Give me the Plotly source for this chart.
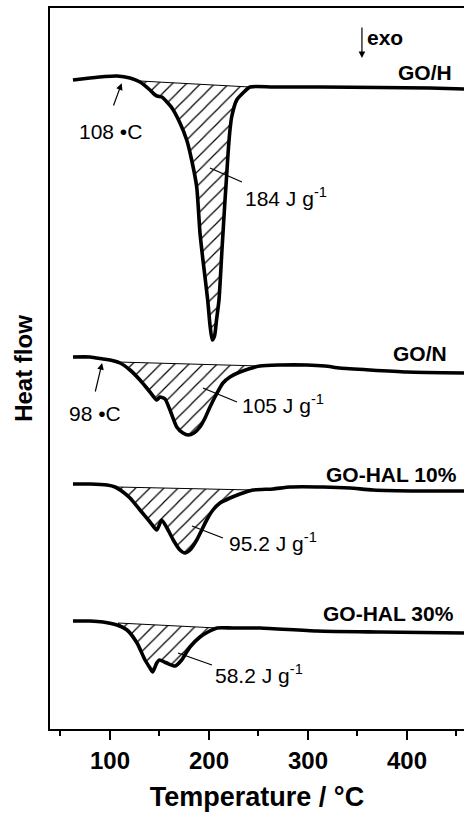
import plotly.graph_objects as go

FONT = "Liberation Sans"

# ---------------- data (Temperature in °C, heat flow in a.u., curves offset) ----------------
T_H = [62.6, 79.8, 94.9, 107.1, 120.2, 130.3, 140.4, 144.5, 147.5, 152.5, 156.6, 162.6, 170.7,
       177.5, 182.5, 187.6, 190.9, 193.9, 198.7, 201.0, 203.3, 205.6, 207.6, 210.1, 213.1, 216.2,
       218.2, 219.5, 221.2, 222.9, 228.0, 234.3, 241.4, 264.6, 312.1, 372.7, 423.2, 458.0]
HF_H = [6.49, 6.51, 6.525, 6.53, 6.51, 6.47, 6.39, 6.35, 6.33, 6.32, 6.28, 6.21, 6.06,
        5.89, 5.69, 5.42, 4.96, 4.69, 4.29, 4.04, 3.89, 3.93, 4.09, 4.29, 4.79, 5.29,
        5.59, 5.79, 5.99, 6.12, 6.29, 6.36, 6.42, 6.42, 6.42, 6.415, 6.41, 6.40]

T_N = [62.6, 79.8, 92.9, 100.0, 110.1, 120.2, 130.3, 140.4, 147.2, 150.5, 155.6, 160.6, 167.4,
       173.7, 179.1, 184.8, 190.9, 196.0, 201.0, 207.1, 214.1, 221.2, 231.3, 251.5, 271.7, 299.0,
       317.2, 332.3, 362.6, 400.0, 458.0]
HF_N = [3.72, 3.72, 3.70, 3.69, 3.66, 3.59, 3.49, 3.37, 3.29, 3.32, 3.30, 3.19, 3.02,
        2.96, 2.94, 2.96, 3.02, 3.11, 3.22, 3.34, 3.46, 3.52, 3.57, 3.63, 3.64, 3.64,
        3.63, 3.61, 3.59, 3.57, 3.56]

T_10 = [62.6, 79.8, 97.0, 105.1, 113.1, 120.2, 130.3, 140.4, 147.2, 152.2, 157.6, 163.9, 170.7,
        175.8, 180.8, 187.6, 197.7, 204.0, 211.1, 221.2, 231.3, 244.4, 264.6, 281.8, 315.2, 342.4,
        365.7, 413.1, 458.0]
HF_10 = [2.45, 2.45, 2.44, 2.42, 2.37, 2.31, 2.19, 2.07, 1.99, 2.09, 2.01, 1.89, 1.79,
         1.76, 1.79, 1.89, 2.09, 2.19, 2.26, 2.31, 2.35, 2.39, 2.40, 2.42, 2.42, 2.41,
         2.39, 2.38, 2.38]

T_30 = [62.6, 79.8, 92.9, 107.1, 117.2, 127.3, 135.4, 140.4, 143.1, 147.2, 149.8, 157.3, 165.7,
        172.4, 176.8, 180.8, 190.9, 199.0, 208.1, 224.2, 251.5, 309.1, 372.7, 458.0]
HF_30 = [1.08, 1.08, 1.07, 1.04, 0.99, 0.86, 0.69, 0.61, 0.57, 0.66, 0.69, 0.66, 0.63,
         0.69, 0.76, 0.82, 0.92, 0.97, 1.01, 1.01, 1.01, 0.98, 0.97, 0.96]

names = ["GO/H", "GO/N", "GO-HAL 10%", "GO-HAL 30%"]
temps = [T_H, T_N, T_10, T_30]
flows = [HF_H, HF_N, HF_10, HF_30]

# integration baselines (start T, start HF, end T, end HF)
base_T0 = [130.3, 108.1, 107.1, 108.1]
base_H0 = [6.48, 3.67, 2.42, 1.06]
base_T1 = [241.4, 251.5, 244.4, 208.1]
base_H1 = [6.42, 3.63, 2.39, 1.01]

enthalpy = ["184", "105", "95.2", "58.2"]
# enthalpy label anchor (left, middle) and leader line (from, to)
lab_T = [234.3, 231.3, 218.2, 204.0]
lab_H = [5.32, 3.25, 1.87, 0.55]
lead_T0 = [201.0, 193.9, 182.8, 168.7]
lead_H0 = [5.61, 3.41, 2.03, 0.76]
lead_T1 = [233.3, 228.3, 214.1, 203.0]
lead_H1 = [5.47, 3.27, 1.91, 0.64]

# sample name label anchor (right, middle)
name_T = [447.5, 442.4, 452.5, 449.5]
name_H = [6.57, 3.76, 2.55, 1.16]

# onset temperatures with arrows
onset_text = ["108 •C", "98 •C"]
onset_T = [101.0, 84.8]
onset_H = [5.98, 3.16]
arr_tip_T = [111.8, 92.0]
arr_tip_H = [6.457, 3.66]
arr_tail_T = [103.0, 84.8]
arr_tail_H = [6.22, 3.36]

fig = go.Figure()

# hatched areas
for T, H, t0, h0, t1, h1 in zip(temps, flows, base_T0, base_H0, base_T1, base_H1):
    px = [t0] + [t for t in T if t0 < t < t1]
    py = [h0] + [h for t, h in zip(T, H) if t0 < t < t1]
    px += [t1, t0]
    py += [h1, h0]
    fig.add_trace(go.Scatter(
        x=px, y=py, mode="lines", fill="toself",
        line=dict(color="black", width=1),
        fillcolor="white",
        fillpattern=dict(shape="/", size=10, solidity=0.12, fgcolor="black",
                         bgcolor="white", fillmode="replace"),
        hoverinfo="skip", showlegend=False))

# curves
for T, H, n in zip(temps, flows, names):
    fig.add_trace(go.Scatter(x=T, y=H, mode="lines", name=n,
                             line=dict(color="black", width=3.6, shape="spline", smoothing=0.6),
                             showlegend=False))

ann = []
# enthalpy labels + leader lines
for e, lt, lh, a0, b0, a1, b1 in zip(enthalpy, lab_T, lab_H, lead_T0, lead_H0, lead_T1, lead_H1):
    ann.append(dict(x=lt, y=lh, xref="x", yref="y", text=f"{e} J g<sup>-1</sup>",
                    showarrow=False, xanchor="left", yanchor="middle",
                    font=dict(family=FONT, size=21, color="black")))
    fig.add_shape(type="line", x0=a0, y0=b0, x1=a1, y1=b1, xref="x", yref="y",
                  line=dict(color="black", width=1.3))

# sample names
for n, nt, nh in zip(names, name_T, name_H):
    ann.append(dict(x=nt, y=nh, xref="x", yref="y", text=n, showarrow=False,
                    xanchor="right", yanchor="middle",
                    font=dict(family=FONT, size=21, color="black", weight="bold")))

# onset labels and arrows
for txt, ot, oh, tt, th, st, sh in zip(onset_text, onset_T, onset_H, arr_tip_T, arr_tip_H,
                                       arr_tail_T, arr_tail_H):
    ann.append(dict(x=ot, y=oh, xref="x", yref="y", text=txt, showarrow=False,
                    xanchor="center", yanchor="middle",
                    font=dict(family=FONT, size=21, color="black")))
    ann.append(dict(x=tt, y=th, xref="x", yref="y", ax=st, ay=sh, axref="x", ayref="y",
                    text="", showarrow=True, arrowhead=2, arrowsize=1.1, arrowwidth=1.2,
                    arrowcolor="black"))

# exo arrow
ann.append(dict(x=354.5, y=6.71, xref="x", yref="y", ax=354.5, ay=7.03, axref="x", ayref="y",
                text="", showarrow=True, arrowhead=2, arrowsize=1.1, arrowwidth=1.2,
                arrowcolor="black"))
ann.append(dict(x=357.6, y=6.92, xref="x", yref="y", text="exo", showarrow=False,
                xanchor="left", yanchor="middle",
                font=dict(family=FONT, size=21, color="black", weight="bold")))

fig.update_layout(
    width=464, height=817,
    margin=dict(l=50, r=0, t=8, b=88),
    paper_bgcolor="white", plot_bgcolor="white",
    annotations=ann,
    xaxis=dict(range=[39.4, 457.6], showline=True, linewidth=2, linecolor="black", mirror=True,
               ticks="outside", ticklen=9, tickwidth=2, tickcolor="black",
               tick0=0, dtick=100, showgrid=False, zeroline=False,
               tickfont=dict(family=FONT, size=24, color="black", weight="bold"),
               minor=dict(dtick=50, tick0=0, ticks="outside", ticklen=5, tickwidth=2,
                          tickcolor="black", showgrid=False),
               title=dict(text="Temperature / °C", standoff=14,
                          font=dict(family=FONT, size=27, color="black", weight="bold"))),
    yaxis=dict(range=[0, 7.21], showline=True, linewidth=2, linecolor="black", mirror=False,
               showticklabels=False, ticks="", showgrid=False, zeroline=False,
               title=dict(text="Heat flow", standoff=9,
                          font=dict(family=FONT, size=24, color="black", weight="bold"))),
)

fig.write_html("out.html")
